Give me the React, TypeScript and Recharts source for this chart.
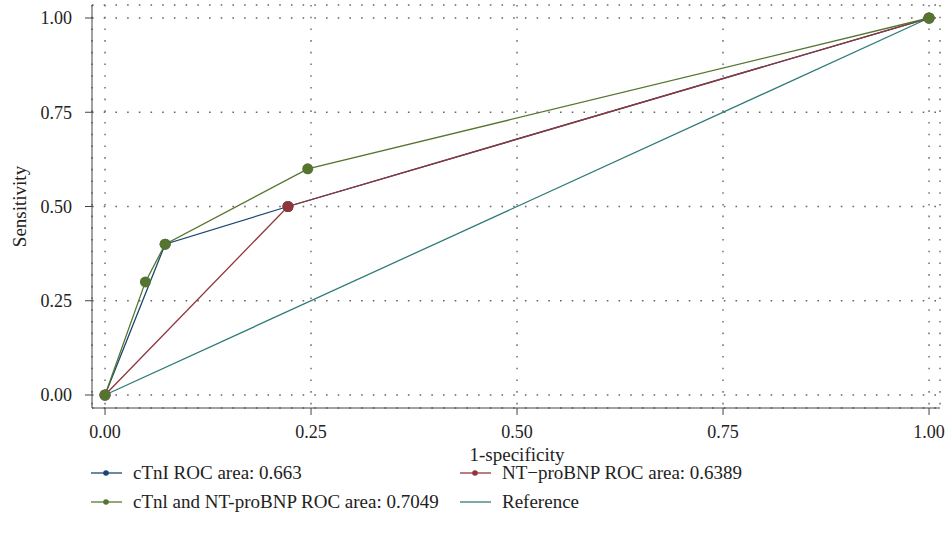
import { CartesianGrid, Line, LineChart, XAxis, YAxis } from "recharts";

const FONT = "'Liberation Serif', 'DejaVu Serif', serif";

const xTicks = [0, 0.25, 0.5, 0.75, 1];
const yTicks = [0, 0.25, 0.5, 0.75, 1];

const ctniX = [0, 0.073, 0.222, 1];
const ctniY = [0, 0.4, 0.5, 1];

const ntX = [0, 0.222, 1];
const ntY = [0, 0.5, 1];

const comboX = [0, 0.049, 0.073, 0.246, 1];
const comboY = [0, 0.3, 0.4, 0.6, 1];

const refX = [0, 1];
const refY = [0, 1];

const zip = (xs: number[], ys: number[]) => xs.map((x, i) => ({ x, y: ys[i] }));

const series = [
  { name: "Reference", color: "#2e7b78", data: zip(refX, refY), dots: false },
  { name: "cTnI ROC area: 0.663", color: "#1a476f", data: zip(ctniX, ctniY), dots: true },
  { name: "NT\u2212proBNP ROC area: 0.6389", color: "#90353b", data: zip(ntX, ntY), dots: true },
  { name: "cTnl and NT-proBNP ROC area: 0.7049", color: "#55752f", data: zip(comboX, comboY), dots: true },
];

// legend order as in the picture: two columns
const legendOrder = [1, 2, 3, 0];

function LegendBox() {
  return (
    <div
      style={{
        position: "absolute",
        left: 90,
        top: 462,
        display: "grid",
        gridTemplateColumns: "369px 360px",
        rowGap: 7,
        fontFamily: FONT,
        fontSize: 19,
        color: "#222",
      }}
    >
      {legendOrder.map((i) => {
        const s = series[i];
        return (
          <div key={s.name} style={{ display: "flex", alignItems: "center", height: 22 }}>
            <svg width={33} height={10} style={{ marginRight: 10 }}>
              <line x1={1} y1={5} x2={32} y2={5} stroke={s.color} strokeWidth={1.6} strokeOpacity={0.8} />
              {s.dots && <circle cx={16} cy={5} r={2.8} fill={s.color} />}
            </svg>
            <span>{s.name}</span>
          </div>
        );
      })}
    </div>
  );
}

export default function App() {
  return (
    <div style={{ position: "fixed", left: 0, top: 0, width: 945, height: 541, background: "#fff" }}>
      <LineChart
        width={945}
        height={541}
        margin={{ top: 5, right: 5, left: 0, bottom: 83 }}
        style={{ fontFamily: FONT }}
      >
        <CartesianGrid stroke="#666" strokeDasharray="1.6 10.1" strokeWidth={1.4} />
        <XAxis
          type="number"
          dataKey="x"
          domain={[-0.0158, 1.0133]}
          ticks={xTicks}
          allowDataOverflow
          tickFormatter={(v: number) => v.toFixed(2)}
          tick={{ fontSize: 18, fill: "#222" }}
          tickSize={7}
          tickMargin={10}
          stroke="#444"
          height={50}
          label={{
            content: ({ viewBox }: any) => (
              <text
                x={105 + 0.5 * 824}
                y={viewBox.y + 53}
                textAnchor="middle"
                fontSize={19}
                fill="#222"
              >
                1-specificity
              </text>
            ),
          }}
        />
        <YAxis
          type="number"
          dataKey="y"
          domain={[-0.0345, 1.0345]}
          ticks={yTicks}
          allowDataOverflow
          tickFormatter={(v: number) => v.toFixed(2)}
          tick={{ fontSize: 18, fill: "#222" }}
          tickSize={7}
          tickMargin={13}
          stroke="#444"
          width={92}
          label={{
            content: ({ viewBox }: any) => {
              const cy = viewBox.y + viewBox.height / 2;
              return (
                <text
                  x={26}
                  y={cy}
                  transform={`rotate(-90 26 ${cy})`}
                  textAnchor="middle"
                  fontSize={19}
                  fill="#222"
                >
                  Sensitivity
                </text>
              );
            },
          }}
        />
        {series.map((s) => (
          <Line
            key={s.name}
            data={s.data}
            dataKey="y"
            type="linear"
            stroke={s.color}
            strokeWidth={1.3}
            dot={s.dots ? { r: 5.5, fill: s.color, stroke: s.color, strokeWidth: 0 } : false}
            activeDot={false}
            isAnimationActive={false}
          />
        ))}
      </LineChart>
      <LegendBox />
    </div>
  );
}
